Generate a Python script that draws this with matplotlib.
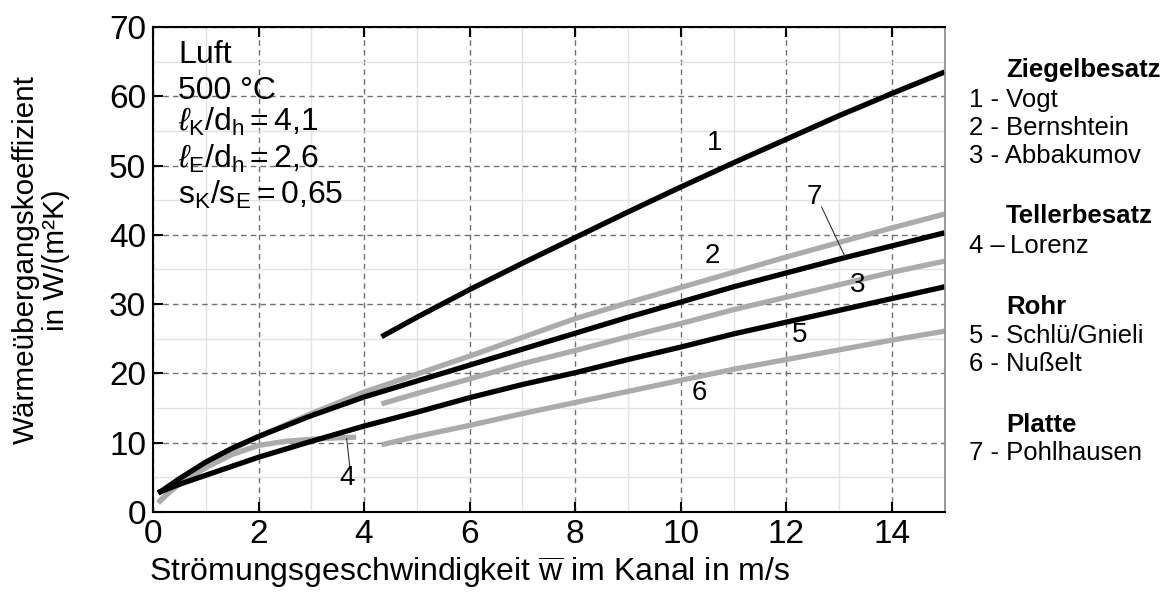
import numpy as np
import matplotlib
matplotlib.use('Agg')
import matplotlib.pyplot as plt
from matplotlib.ticker import MultipleLocator

plt.rcParams['font.family'] = ['Liberation Sans', 'DejaVu Sans']
plt.rcParams['mathtext.fontset'] = 'custom'
plt.rcParams['mathtext.rm'] = 'Liberation Sans'
plt.rcParams['mathtext.it'] = 'Liberation Sans:italic'
plt.rcParams['mathtext.bf'] = 'Liberation Sans:bold'

# Werte
x_long = [0.1, 0.5, 1, 1.5, 2, 3, 4, 5, 6, 7, 8, 9, 10, 11, 12, 13, 14, 15]
x_short = [4.33, 5, 6, 7, 8, 9, 10, 11, 12, 13, 14, 15]
x_lorenz = [0.1, 0.3, 0.5, 1, 1.5, 2, 2.5, 3, 3.5, 3.85]

y1_vogt = [25.3, 28.1, 32.1, 35.9, 39.6, 43.3, 46.9, 50.4, 53.8, 57.2, 60.4, 63.5]
y2_bernshtein = [2.7, 4.8, 7.2, 9.2, 10.9, 13.9, 16.6, 18.9, 21.2, 23.5, 25.8,
                 28.1, 30.3, 32.5, 34.5, 36.5, 38.4, 40.3]
y3_abbakumov = [15.6, 17.1, 19.2, 21.4, 23.3, 25.3, 27.2, 29.2, 31.0, 32.8, 34.6, 36.2]
y4_lorenz = [1.3, 2.8, 4.0, 6.4, 8.3, 9.6, 10.2, 10.5, 10.7, 10.8]
y5_schlue = [2.8, 4.0, 5.3, 6.6, 7.9, 10.2, 12.4, 14.4, 16.5, 18.4, 20.1,
             22.0, 23.8, 25.7, 27.4, 29.1, 30.8, 32.5]
y6_nusselt = [9.7, 10.9, 12.5, 14.2, 15.8, 17.4, 19.0, 20.6, 22.0, 23.4, 24.8, 26.1]
y7_pohlhausen = [1.4, 4.2, 6.8, 9.0, 10.9, 14.2, 17.3, 19.9, 22.5, 25.2, 27.9,
                 30.2, 32.4, 34.6, 36.8, 38.9, 41.0, 43.0]

black = '#000000'
grey = '#ababab'
lw = 3.8

fig = plt.figure(figsize=(11.72, 5.97), dpi=100)
ax = fig.add_axes([0.1305, 0.1424, 0.6755, 0.8124])

# graue Kurven zuerst, schwarze darüber
ax.plot(x_lorenz, y4_lorenz, color=grey, lw=lw, solid_capstyle='butt')
ax.plot(x_long, y7_pohlhausen, color=grey, lw=lw, solid_capstyle='butt')
ax.plot(x_short, y3_abbakumov, color=grey, lw=lw, solid_capstyle='butt')
ax.plot(x_short, y6_nusselt, color=grey, lw=lw, solid_capstyle='butt')
ax.plot(x_short, y1_vogt, color=black, lw=lw, solid_capstyle='butt')
ax.plot(x_long, y2_bernshtein, color=black, lw=lw, solid_capstyle='butt')
ax.plot(x_long, y5_schlue, color=black, lw=lw, solid_capstyle='butt')

ax.set_xlim(0, 15)
ax.set_ylim(0, 70)
ax.xaxis.set_major_locator(MultipleLocator(2))
ax.xaxis.set_minor_locator(MultipleLocator(1))
ax.yaxis.set_major_locator(MultipleLocator(10))
ax.yaxis.set_minor_locator(MultipleLocator(5))
ax.set_axisbelow(True)
ax.grid(which='minor', color='#e2e2e2', lw=1, ls='-')
ax.grid(which='major', color='#707070', lw=1, ls=(0, (4, 3)))

ax.tick_params(which='major', direction='in', length=7, width=1.5,
               labelsize=24, top=True, right=False, pad=5)
ax.tick_params(which='minor', length=0)
for s in ['left', 'bottom', 'top']:
    ax.spines[s].set_linewidth(1.5)
ax.spines['right'].set_color('#888888')
ax.spines['right'].set_linewidth(1.2)

ax.set_xlabel(r'Strömungsgeschwindigkeit $\overline{\mathrm{w}}$ im Kanal in m/s',
              fontsize=23, va='center')
ax.xaxis.set_label_coords(0.40, -0.124)
ax.set_ylabel('Wärmeübergangskoeffizient\nin W/(m²K)', fontsize=21.3,
              linespacing=1.1, va='center', ha='center')
ax.yaxis.set_label_coords(-0.142, 0.52)

# Kurvennummern
nums = ['1', '2', '7', '3', '5', '6', '4']
num_x = [10.64, 10.59, 12.54, 13.35, 12.25, 10.36, 3.674]
num_y = [53.2, 36.9, 45.4, 32.8, 25.5, 17.2, 4.9]
for t, xx, yy in zip(nums, num_x, num_y):
    ax.text(xx, yy, t, fontsize=20, ha='center', va='center')
ax.plot([12.67, 13.11], [44.0, 36.9], color='#333333', lw=0.8)
ax.plot([3.67, 3.73], [10.6, 6.5], color='#333333', lw=0.8)

# Randbedingungen
cond = ['Luft', '500 °C',
        r'$\ell_{\mathrm{K}}/\mathrm{d}_{\mathrm{h}}=4{,}1$',
        r'$\ell_{\mathrm{E}}/\mathrm{d}_{\mathrm{h}}=2{,}6$',
        r'$\mathrm{s}_{\mathrm{K}}/\mathrm{s}_{\mathrm{E}}=0{,}65$']
cond_y = [63, 99, 131, 168, 204]
for t, yy in zip(cond, cond_y):
    fig.text(178 / 1172, 1 - yy / 597, t, fontsize=23,
             ha='left', va='baseline')

# Legende rechts
heads = ['Ziegelbesatz', 'Tellerbesatz', 'Rohr', 'Platte']
head_y = [70, 216, 307, 425]
for t, yy in zip(heads, head_y):
    fig.text(1006 / 1172, 1 - yy / 597, t, fontsize=18.5, fontweight='bold',
             ha='left', va='center')
entries = ['1 - Vogt', '2 - Bernshtein', '3 - Abbakumov', '4 –\u2009Lorenz',
           '5 - Schlü/Gnieli', '6 - Nußelt', '7 - Pohlhausen']
entry_y = [100, 128, 156, 246, 336, 364, 453]
for t, yy in zip(entries, entry_y):
    fig.text(969 / 1172, 1 - yy / 597, t, fontsize=18.5, ha='left', va='center')

fig.savefig('out.png', dpi=100)
